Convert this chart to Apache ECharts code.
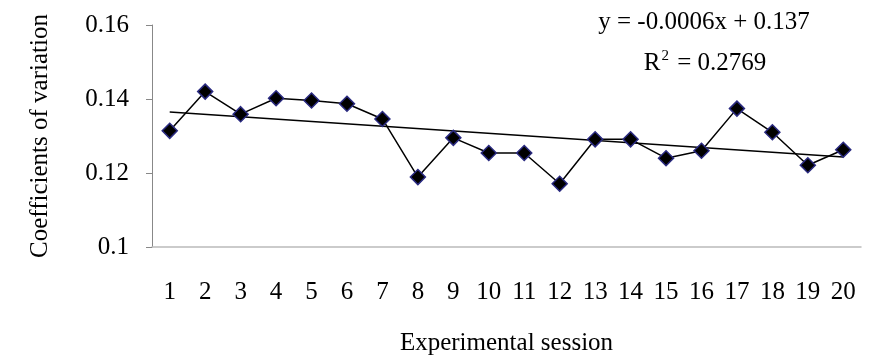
<!DOCTYPE html>
<html>
<head>
<meta charset="utf-8">
<script src="https://cdn.jsdelivr.net/npm/echarts@6/dist/echarts.min.js"></script>
<style>html,body{margin:0;padding:0;background:#fff}#c{width:875px;height:361px}</style>
</head>
<body>
<div id="c"></div>
<script>
var sessions = ['1','2','3','4','5','6','7','8','9','10','11','12','13','14','15','16','17','18','19','20'];
var cv = [0.1314,0.1420,0.1359,0.1402,0.1396,0.1387,0.1346,0.1189,0.1295,0.1254,0.1254,0.1171,0.1291,0.1291,0.1240,0.1260,0.1374,0.1310,0.1221,0.1263];
var trendX = ['1','20'];
var trendY = [0.1365, 0.1243];
var yTicks = [0.1, 0.12, 0.14, 0.16];
var eqText = 'y = -0.0006x + 0.137';
var r2Value = '0.2769';

var font = '"Liberation Serif","Times New Roman",serif';
var fs = 25;
var chart = echarts.init(document.getElementById('c'));
chart.setOption({
  animation: false,
  backgroundColor: '#fff',
  grid: {left: 152, right: 14, top: 25, bottom: 110},
  xAxis: {
    type: 'category',
    data: sessions,
    boundaryGap: true,
    name: 'Experimental session',
    nameLocation: 'middle',
    nameGap: 84,
    nameTextStyle: {fontFamily: font, fontSize: fs, color: '#000'},
    axisLine: {lineStyle: {color: '#bbbbbb', width: 1.5}},
    axisTick: {alignWithLabel: true, interval: 0, length: 8, lineStyle: {color: '#000', width: 1.5}},
    axisLabel: {interval: 0, fontFamily: font, fontSize: fs, color: '#000', margin: 33},
    splitLine: {show: false}
  },
  yAxis: {
    type: 'value',
    min: yTicks[0],
    max: yTicks[yTicks.length - 1],
    interval: 0.02,
    name: 'Coefficients of variation',
    nameLocation: 'middle',
    nameRotate: 90,
    nameGap: 99,
    nameTextStyle: {fontFamily: font, fontSize: fs, color: '#000'},
    axisLine: {show: true, lineStyle: {color: '#888888', width: 1}},
    axisTick: {show: true, length: 6, lineStyle: {color: '#888888'}},
    axisLabel: {fontFamily: font, fontSize: fs, color: '#000', margin: 23,
      formatter: function (v) { return String(+v.toFixed(2)); }},
    splitLine: {show: false}
  },
  graphic: [
    {type: 'text', style: {text: eqText, fontFamily: font, fontSize: fs, fill: '#000', x: 704, y: 22, textAlign: 'center', textVerticalAlign: 'middle'}},
    {type: 'text', style: {
      x: 705, y: 63, textAlign: 'center', textVerticalAlign: 'middle',
      text: '{a|R}{s|2}{a| = ' + r2Value + '}',
      rich: {
        a: {fontFamily: font, fontSize: fs, fill: '#000', lineHeight: 28},
        s: {fontFamily: font, fontSize: 15, fill: '#000', lineHeight: 28, verticalAlign: 'top', padding: [0, 2, 10, 1]}
      }
    }}
  ],
  series: [
    {
      type: 'line',
      data: trendX.map(function (x, i) { return [x, trendY[i]]; }),
      symbol: 'none',
      lineStyle: {color: '#000', width: 1.5},
      z: 2
    },
    {
      type: 'line',
      data: cv,
      symbol: 'diamond',
      symbolSize: 15,
      itemStyle: {color: '#000', borderColor: '#2a2a80', borderWidth: 1.5},
      lineStyle: {color: '#000', width: 1.5},
      z: 3
    }
  ]
});
</script>
</body>
</html>
